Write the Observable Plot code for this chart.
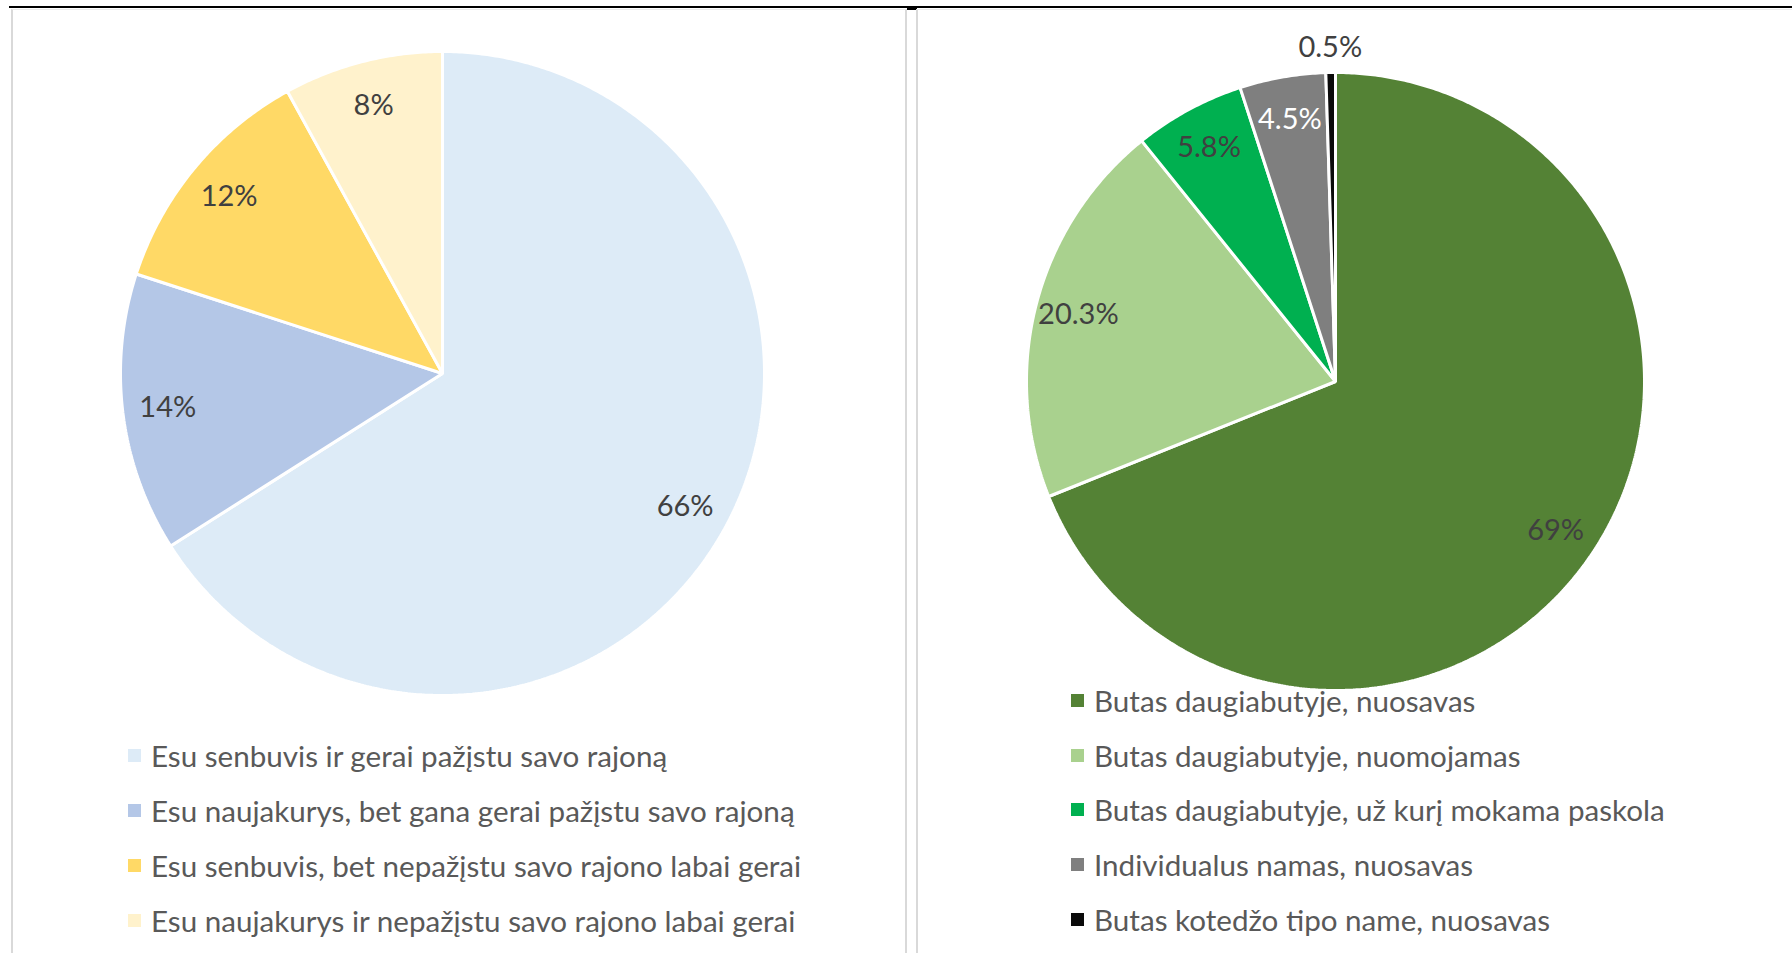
<!DOCTYPE html>
<html>
<head>
<meta charset="utf-8">
<script src="https://cdn.jsdelivr.net/npm/d3@7"></script>
<script src="https://cdn.jsdelivr.net/npm/@observablehq/plot@0.6"></script>
<style>
  html, body { margin: 0; padding: 0; background: #ffffff; }
  #page { position: relative; width: 1792px; height: 953px; overflow: hidden; background: #fff; font-family: Lato, "Open Sans", sans-serif; }
  .rule { position: absolute; background: #000; }
  .box { position: absolute; box-sizing: border-box; border-left: 2px solid #d9d9d9; border-right: 2px solid #d9d9d9; border-top: 1px solid #ececec; }
  .pie { position: absolute; }
  .legend { position: absolute; color: #595959; font-size: 29.6px; }
  .legend .row { position: absolute; left: 0; white-space: nowrap; display: flex; align-items: center; height: 36px; transform: translateY(-50%); }
  .legend .sw { display: inline-block; width: 13px; height: 13px; margin-right: 10px; }
</style>
</head>
<body>
<div id="page">
  <div class="rule" style="left:9px; top:6px; width:1783px; height:2px;"></div>
  <div class="rule" style="left:907px; top:6px; width:10px; height:4px;"></div>
  <div class="box" style="left:11px; top:9px; width:896px; height:960px;"></div>
  <div class="box" style="left:916px; top:9px; width:900px; height:960px;"></div>
</div>
<script>
// ---- Left chart data ----
const leftCategories = [
  "Esu senbuvis ir gerai pažįstu savo rajoną",
  "Esu naujakurys, bet gana gerai pažįstu savo rajoną",
  "Esu senbuvis, bet nepažįstu savo rajono labai gerai",
  "Esu naujakurys ir nepažįstu savo rajono labai gerai"
];
const leftValues = [66, 14, 12, 8];
const leftColors = ["#DDEBF7", "#B4C7E7", "#FFD966", "#FFF2CC"];
const leftLabelColors = ["#404040", "#404040", "#404040", "#404040"];

// ---- Right chart data ----
const rightCategories = [
  "Butas daugiabutyje, nuosavas",
  "Butas daugiabutyje, nuomojamas",
  "Butas daugiabutyje, už kurį mokama paskola",
  "Individualus namas, nuosavas",
  "Butas kotedžo tipo name, nuosavas"
];
const rightValues = [69, 20.3, 5.8, 4.5, 0.5];
const rightColors = ["#548235", "#A9D18E", "#00B050", "#7F7F7F", "#0A0A0A"];
const rightLabelColors = ["#404040", "#404040", "#404040", "#FFFFFF", "#404040"];

function pieChart(categories, values, colors, labelColors, radiusPx, sizePx) {
  const arcs = d3.pie().sort(null).value(d => d)(values);
  const poly = [];
  const labels = [];
  arcs.forEach((a, i) => {
    const cat = categories[i];
    const span = a.endAngle - a.startAngle;
    const n = Math.max(2, Math.ceil(span / (Math.PI / 360)));
    poly.push({cat, x: 0, y: 0});
    for (let k = 0; k <= n; k++) {
      const t = a.startAngle + span * k / n;
      poly.push({cat, x: Math.sin(t), y: Math.cos(t)});
    }
    const mid = (a.startAngle + a.endAngle) / 2;
    const f = values[i] < 1 ? 1.08 : 0.86;
    labels.push({
      cat,
      x: Math.sin(mid) * f,
      y: Math.cos(mid) * f,
      text: `${values[i]}%`,
      color: labelColors[i]
    });
  });
  const half = (sizePx / 2) / radiusPx;
  return Plot.plot({
    width: sizePx,
    height: sizePx,
    margin: 0,
    x: {domain: [-half, half], axis: null},
    y: {domain: [-half, half], axis: null},
    color: {domain: categories, range: colors},
    style: {fontFamily: "Lato, 'Open Sans', sans-serif", background: "transparent", overflow: "visible"},
    marks: [
      Plot.line(poly, {x: "x", y: "y", z: "cat", fill: "cat", stroke: "white", strokeWidth: 3, strokeLinejoin: "miter", curve: "linear-closed"}),
      Plot.text(labels.filter(d => d.color !== "#FFFFFF"), {x: "x", y: "y", text: "text", fill: "#404040", fontSize: 29}),
      Plot.text(labels.filter(d => d.color === "#FFFFFF"), {x: "x", y: "y", text: "text", fill: "#FFFFFF", fontSize: 29})
    ]
  });
}

function legend(categories, colors, left, rowTops) {
  const div = document.createElement("div");
  div.className = "legend";
  div.style.left = left + "px";
  div.style.top = "0px";
  categories.forEach((c, i) => {
    const row = document.createElement("div");
    row.className = "row";
    row.style.top = rowTops[i] + "px";
    const sw = document.createElement("span");
    sw.className = "sw";
    sw.style.background = colors[i];
    const tx = document.createElement("span");
    tx.textContent = c;
    row.appendChild(sw);
    row.appendChild(tx);
    div.appendChild(row);
  });
  return div;
}

const page = document.getElementById("page");

const leftSize = 720;
const leftPie = pieChart(leftCategories, leftValues, leftColors, leftLabelColors, 322, leftSize);
const lw = document.createElement("div");
lw.className = "pie";
lw.style.left = (442 - leftSize / 2) + "px";
lw.style.top = (373 - leftSize / 2) + "px";
lw.appendChild(leftPie);
page.appendChild(lw);

const rightSize = 720;
const rightPie = pieChart(rightCategories, rightValues, rightColors, rightLabelColors, 309, rightSize);
const rw = document.createElement("div");
rw.className = "pie";
rw.style.left = (1335 - rightSize / 2) + "px";
rw.style.top = (381 - rightSize / 2) + "px";
rw.appendChild(rightPie);
page.appendChild(rw);

page.appendChild(legend(leftCategories, leftColors, 128, [755, 810, 865, 920]));
page.appendChild(legend(rightCategories, rightColors, 1071, [700, 755, 809, 864, 919]));
</script>
</body>
</html>
